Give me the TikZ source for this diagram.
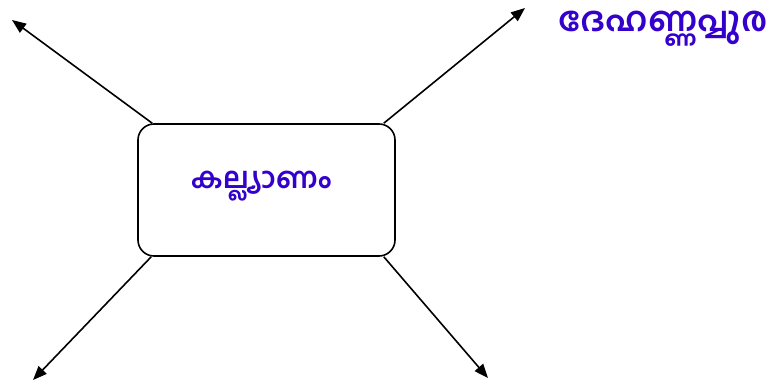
\documentclass[tikz,border=0pt]{standalone}
\usepackage{fontspec}
\newfontfamily\malfont[Script=Malayalam]{Hind Kochi}
\usetikzlibrary{arrows.meta,calc,positioning}
\definecolor{malblue}{RGB}{51,0,204}
\begin{document}
\begin{tikzpicture}[x=1pt,y=-1pt]
			\tikzset{every node/.style={font=\malfont\bfseries\fontsize{29}{32}\selectfont, text=malblue}}
			\tikzset{arr/.style={line width=1.6pt, -{Triangle[length=14pt,width=11pt]}}}
			\useasboundingbox (0,0) rectangle (776,382);
			\node [draw=black, line width=1.6pt, rounded corners=16pt, minimum width=257pt, minimum height=132pt] (kalyanam) at (266.5,190) {};
			\node [anchor=center] (kalyanamtext) at (261,186) {കല്ല്യാണം};
			\node [anchor=center, font=\malfont\bfseries\fontsize{34}{37}\selectfont] (dehannappura) at (663,29) {ദേഹണ്ണപ്പുര};
			\coordinate (tl) at (12,20);
			\coordinate (tr) at (525,8);
			\coordinate (bl) at (33,380);
			\coordinate (br) at (488,378);
			\draw [arr] ($(kalyanam.north west)+(15,0)$) -- (tl);
			\draw [arr] ($(kalyanam.north east)+(-12,0)$) -- (tr);
			\draw [arr] ($(kalyanam.south west)+(14,0)$) -- (bl);
			\draw [arr] ($(kalyanam.south east)+(-12,0)$) -- (br);
	\end{tikzpicture}
\end{document}
